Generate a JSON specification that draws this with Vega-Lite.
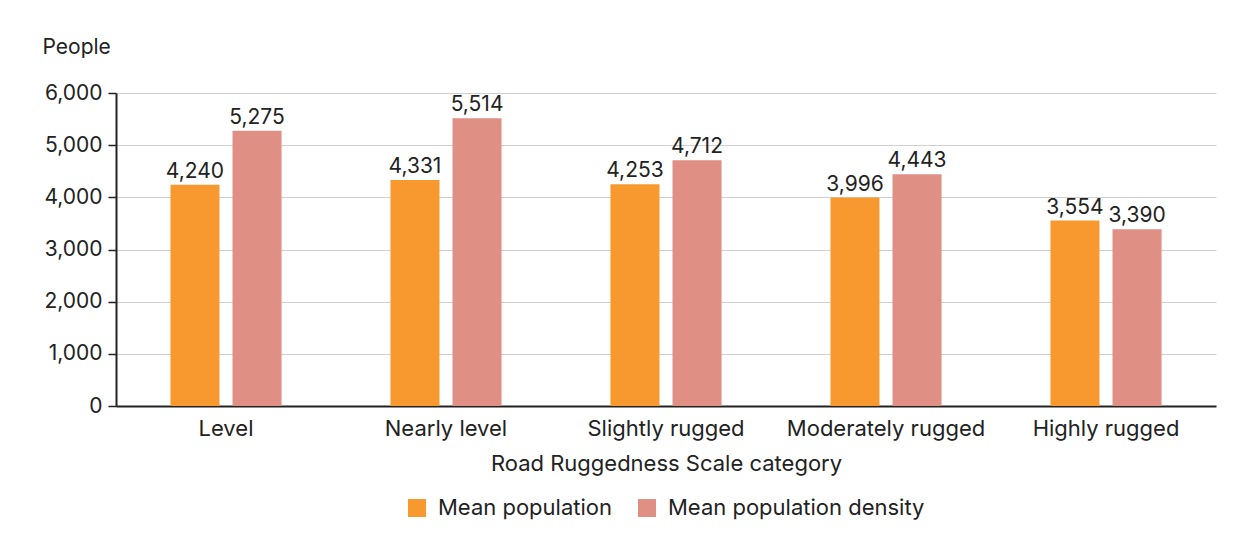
{
  "$schema": "https://vega.github.io/schema/vega-lite/v6.json",
  "width": 1100,
  "height": 313,
  "autosize": {"type": "none"},
  "padding": {"left": 116, "top": 93, "right": 37, "bottom": 142},
  "background": "white",
  "config": {
    "font": "Inter",
    "view": {"stroke": null},
    "text": {"font": "Inter"}
  },
  "data": {
    "values": [
      {"category": "Level", "series": "Mean population", "value": 4240},
      {"category": "Level", "series": "Mean population density", "value": 5275},
      {"category": "Nearly level", "series": "Mean population", "value": 4331},
      {"category": "Nearly level", "series": "Mean population density", "value": 5514},
      {"category": "Slightly rugged", "series": "Mean population", "value": 4253},
      {"category": "Slightly rugged", "series": "Mean population density", "value": 4712},
      {"category": "Moderately rugged", "series": "Mean population", "value": 3996},
      {"category": "Moderately rugged", "series": "Mean population density", "value": 4443},
      {"category": "Highly rugged", "series": "Mean population", "value": 3554},
      {"category": "Highly rugged", "series": "Mean population density", "value": 3390}
    ]
  },
  "encoding": {
    "x": {
      "field": "category",
      "type": "nominal",
      "sort": null,
      "scale": {"paddingInner": 0.495, "paddingOuter": 0.2475},
      "axis": {
        "title": "Road Ruggedness Scale category",
        "titleFontSize": 22,
        "titleFontWeight": "normal",
        "titleColor": "#222222",
        "titlePadding": 14,
        "labelFontSize": 22,
        "labelColor": "#222222",
        "labelAngle": 0,
        "labelPadding": 12,
        "labelLimit": 0,
        "ticks": false,
        "domainColor": "#222222",
        "domainWidth": 2
      }
    },
    "xOffset": {
      "field": "series",
      "type": "nominal",
      "scale": {"paddingInner": 0.21, "paddingOuter": 0}
    },
    "y": {
      "field": "value",
      "type": "quantitative",
      "scale": {"domain": [0, 6000]},
      "axis": {
        "title": "People",
        "titleAngle": 0,
        "titleAlign": "left",
        "titleBaseline": "alphabetic",
        "titleX": -74,
        "titleY": -40,
        "titleFontSize": 21,
        "titleFontWeight": "normal",
        "titleColor": "#222222",
        "labelFontSize": 21,
        "labelColor": "#222222",
        "labelPadding": 6,
        "labelOverlap": false,
        "labelFlush": false,
        "values": [0, 1000, 2000, 3000, 4000, 5000, 6000],
        "tickSize": 8,
        "tickColor": "#222222",
        "tickWidth": 1.5,
        "domainColor": "#222222",
        "domainWidth": 2,
        "gridColor": "#d0d0d0",
        "gridWidth": 1.2,
        "format": ",.0f"
      }
    },
    "color": {
      "field": "series",
      "type": "nominal",
      "scale": {
        "domain": ["Mean population", "Mean population density"],
        "range": ["#F7992E", "#E08F84"]
      },
      "legend": {
        "title": null,
        "orient": "none",
        "legendX": 290,
        "legendY": 404,
        "direction": "horizontal",
        "symbolType": "square",
        "symbolSize": 324,
        "symbolStrokeWidth": 0,
        "labelFontSize": 22,
        "labelColor": "#222222",
        "labelLimit": 0,
        "columnPadding": 24,
        "labelOffset": 10
      }
    }
  },
  "layer": [
    {"mark": {"type": "bar"}},
    {
      "mark": {"type": "text", "baseline": "bottom", "dy": -3, "fontSize": 21, "color": "#222222"},
      "encoding": {
        "text": {"field": "value", "type": "quantitative", "format": ","},
        "color": {"value": "#222222"}
      }
    }
  ]
}
